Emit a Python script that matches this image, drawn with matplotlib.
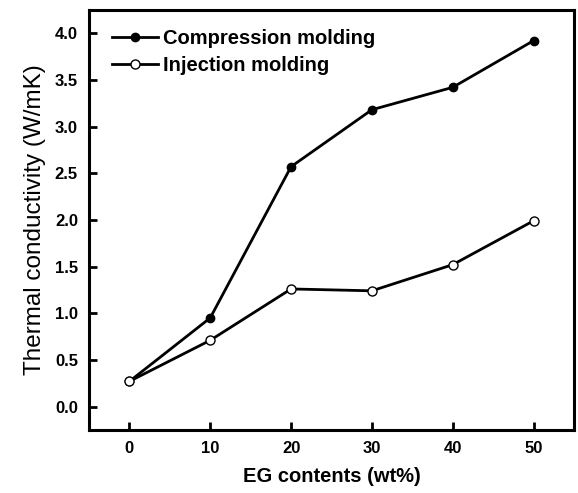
import matplotlib
matplotlib.use("Agg")
import matplotlib.pyplot as plt

plt.rcParams['font.family'] = ['Liberation Sans', 'DejaVu Sans']

# EG content (wt%) and thermal conductivity (W/mK)
eg_content = [0, 10, 20, 30, 40, 50]
compression = [0.27, 0.95, 2.57, 3.18, 3.42, 3.92]
injection = [0.27, 0.71, 1.26, 1.24, 1.52, 1.99]
x_ticks = [0, 10, 20, 30, 40, 50]
y_ticks = [0.0, 0.5, 1.0, 1.5, 2.0, 2.5, 3.0, 3.5, 4.0]

fig = plt.figure(figsize=(5.78, 4.93), dpi=100)
ax = fig.add_axes([0.154, 0.128, 0.839, 0.852])

ax.plot(eg_content, compression, color='black', lw=2.0, marker='o',
        ms=6, mfc='black', mec='black', label='Compression molding')
ax.plot(eg_content, injection, color='black', lw=2.0, marker='o',
        ms=6.5, mfc='white', mec='black', mew=1.0, label='Injection molding')

ax.set_xlim(-5, 55)
ax.set_ylim(-0.25, 4.25)
ax.set_xticks(x_ticks)
ax.set_yticks(y_ticks)
ax.set_yticklabels([f"{v:.1f}" for v in y_ticks])

for s in ax.spines.values():
    s.set_linewidth(2.2)
ax.tick_params(direction='in', length=6, width=2, labelsize=12, pad=8)
for lab in ax.get_xticklabels() + ax.get_yticklabels():
    lab.set_fontweight('bold')

ax.set_xlabel("EG contents (wt%)", fontsize=14.5, fontweight='bold', labelpad=8)
ax.set_ylabel("Thermal conductivity (W/mK)", fontsize=17.5, labelpad=6)

leg = ax.legend(loc='upper left', bbox_to_anchor=(0.047, 0.955), frameon=False,
                handlelength=2.3, handletextpad=0.25, labelspacing=0.4,
                borderpad=0, borderaxespad=0,
                prop={'weight': 'bold', 'size': 14.5})

fig.savefig("out.png", dpi=100)
